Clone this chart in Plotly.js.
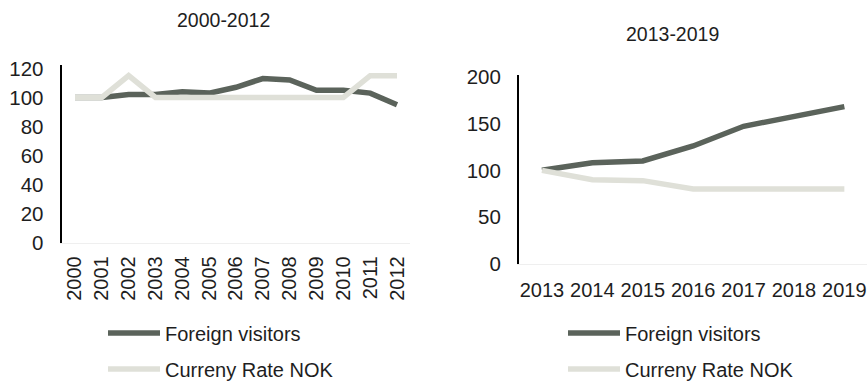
<!DOCTYPE html>
<html>
<head>
<meta charset="utf-8">
<script src="https://cdn.plot.ly/plotly-3.0.1.min.js"></script>
<style>
  html, body { margin: 0; padding: 0; background: #ffffff; }
  #chart { width: 867px; height: 381px; }
</style>
</head>
<body>
<div id="chart"></div>
<script>
// Index values (base year = 100) for the two periods
const yearsEarly = ['2000','2001','2002','2003','2004','2005','2006','2007','2008','2009','2010','2011','2012'];
const visitorsEarly = [100, 100, 102, 102, 104, 103, 107, 113, 112, 105, 105, 103, 95];
const currencyEarly = [100, 100, 115, 100, 100, 100, 100, 100, 100, 100, 100, 115, 115];

const yearsLate = ['2013','2014','2015','2016','2017','2018','2019'];
const visitorsLate = [100, 108, 110, 126, 147, 157, 168];
const currencyLate = [100, 90, 89, 80, 80, 80, 80];

const seriesNames = ['Foreign visitors', 'Curreny Rate NOK'];
const panelTitles = ['2000-2012', '2013-2019'];

const darkColor = '#5b635b';
const lightColor = '#dfe0d8';
const textColor = '#1e1e1e';
const baseFont = 'Liberation Sans, Arial, sans-serif';

function line(x, y, name, color, xa, ya, legendId) {
  return {
    type: 'scatter', mode: 'lines', x: x, y: y, name: name,
    xaxis: xa, yaxis: ya, legend: legendId, showlegend: true,
    line: { color: color, width: 5.5 },
    hoverinfo: 'x+y'
  };
}

// one legend per entry so each label sits under its own panel
const traces = [
  line(yearsEarly, visitorsEarly, seriesNames[0], darkColor, 'x', 'y', 'legend2'),
  line(yearsEarly, currencyEarly, seriesNames[1], lightColor, 'x', 'y', 'legend3'),
  line(yearsLate, visitorsLate, seriesNames[0], darkColor, 'x2', 'y2', 'legend4'),
  line(yearsLate, currencyLate, seriesNames[1], lightColor, 'x2', 'y2', 'legend5')
];

const sampleWidth = 52;

function legendAt(textLeft, yPx) {
  return {
    x: (textLeft - sampleWidth - 10) / 867, y: (381 - yPx) / 381,
    xanchor: 'left', yanchor: 'middle',
    itemwidth: sampleWidth,
    bgcolor: 'rgba(0,0,0,0)', borderwidth: 0, visible: true,
    font: { family: baseFont, size: 20, color: textColor }
  };
}

const commonX = {
  type: 'category', showgrid: false, zeroline: false,
  showline: true, linecolor: '#efefef', linewidth: 1,
  ticks: '', tickfont: { family: baseFont, size: 20, color: textColor }
};
const commonY = {
  showgrid: false, zeroline: false,
  showline: true, linecolor: '#000000', linewidth: 2,
  ticks: '', tickfont: { family: baseFont, size: 20.5, color: textColor }
};

const layout = {
  width: 867, height: 381,
  showlegend: true,
  margin: { l: 0, r: 0, t: 0, b: 0, autoexpand: false },
  paper_bgcolor: '#ffffff', plot_bgcolor: 'rgba(0,0,0,0)',
  font: { family: baseFont, color: textColor },
  xaxis: Object.assign({}, commonX, {
    domain: [0.0710, 0.4734], range: [-0.5, 12.5], anchor: 'y',
    tickangle: -90, ticklabelstandoff: 4
  }),
  yaxis: Object.assign({}, commonY, {
    domain: [0.3614, 0.8283], range: [0, 122], dtick: 20, anchor: 'x',
    ticklabelstandoff: 12
  }),
  xaxis2: Object.assign({}, commonX, {
    domain: [0.5986, 1], range: [-0.456, 6.449], anchor: 'y2',
    tickangle: 0, ticklabelstandoff: 8
  }),
  yaxis2: Object.assign({}, commonY, {
    domain: [0.3071, 0.8037], range: [0, 202], dtick: 50, anchor: 'x2',
    ticklabelstandoff: 12
  }),
  legend: { visible: false },
  legend2: legendAt(165, 333),
  legend3: legendAt(165, 369),
  legend4: legendAt(625, 333),
  legend5: legendAt(625, 369),
  annotations: [
    { text: panelTitles[0], xref: 'paper', yref: 'paper', x: 224 / 867, y: (381 - 20) / 381,
      xanchor: 'center', yanchor: 'middle', showarrow: false,
      font: { family: baseFont, size: 19.5, color: textColor } },
    { text: panelTitles[1], xref: 'paper', yref: 'paper', x: 672 / 867, y: (381 - 34) / 381,
      xanchor: 'center', yanchor: 'middle', showarrow: false,
      font: { family: baseFont, size: 19.5, color: textColor } }
  ]
};

Plotly.newPlot('chart', traces, layout, { displayModeBar: false, staticPlot: true });
</script>
</body>
</html>
